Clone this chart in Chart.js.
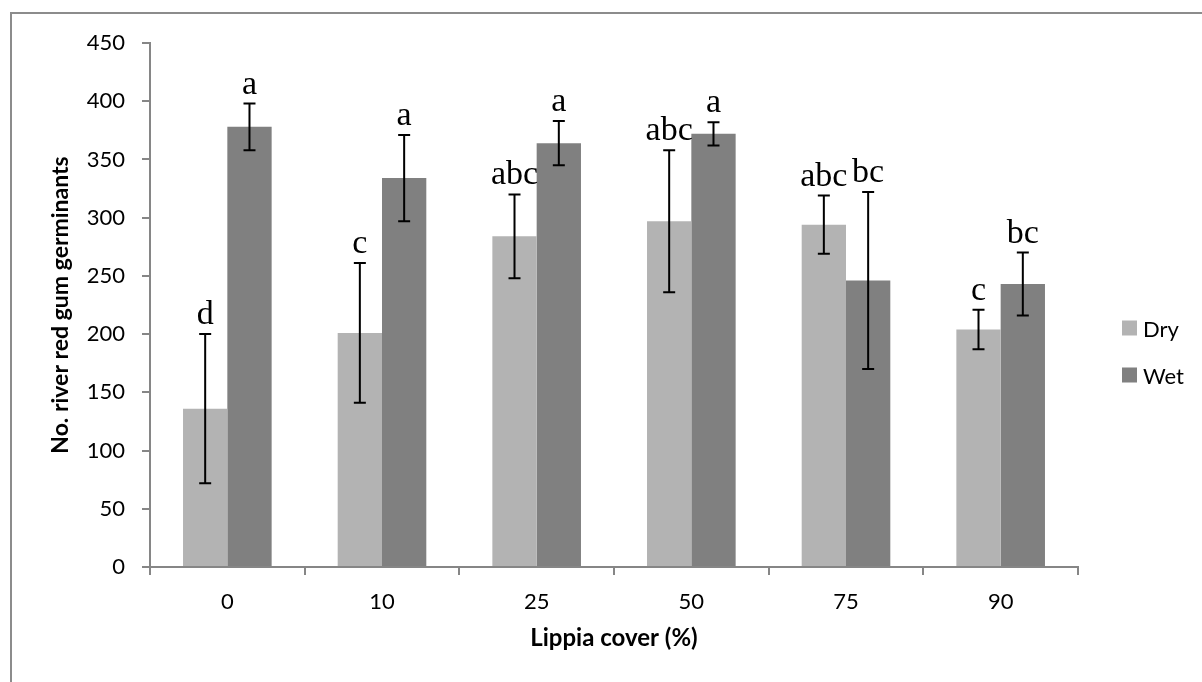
<!DOCTYPE html>
<html>
<head>
<meta charset="utf-8">
<script src="https://cdn.jsdelivr.net/npm/chart.js@4.4.1/dist/chart.umd.min.js"></script>
<style>
  html, body { margin: 0; padding: 0; background: #ffffff; }
  #wrap { position: relative; width: 1202px; height: 682px; }
  canvas { display: block; }
</style>
</head>
<body>
<div id="wrap"><canvas id="c" width="1202" height="682"></canvas></div>
<script>
// ---- data ----
const categories = ['0', '10', '25', '50', '75', '90'];
const dryValues = [136, 201, 284, 297, 294, 204];
const wetValues = [378, 334, 364, 372, 246, 243];
const dryErrors = [64, 60, 36, 61, 25, 17];
const wetErrors = [20, 37, 19, 10, 76, 27];
const dryLetters = ['d', 'c', 'abc', 'abc', 'abc', 'c'];
const wetLetters = ['a', 'a', 'a', 'a', 'bc', 'bc'];
const yTicks = [0, 50, 100, 150, 200, 250, 300, 350, 400, 450];
const seriesNames = ['Dry', 'Wet'];

const DRY_COLOR = '#b3b3b3';
const WET_COLOR = '#808080';
const AXIS_COLOR = '#868686';
const SANS = 'Lato';
const SERIF = '"Liberation Serif"';

const errorSets = [dryErrors, wetErrors];
const letterSets = [dryLetters, wetLetters];

const frame = {
  id: 'frame',
  beforeDraw(chart) {
    const ctx = chart.ctx;
    ctx.save();
    ctx.fillStyle = '#ffffff';
    ctx.fillRect(0, 0, chart.width, chart.height);
    ctx.strokeStyle = '#8c8c8c';
    ctx.lineWidth = 2;
    ctx.beginPath();
    ctx.moveTo(11, chart.height + 2);
    ctx.lineTo(11, 13);
    ctx.lineTo(chart.width + 2, 13);
    ctx.stroke();
    ctx.restore();
  }
};

const errorBars = {
  id: 'errorBars',
  afterDatasetsDraw(chart) {
    const ctx = chart.ctx;
    const y = chart.scales.y;
    ctx.save();
    ctx.strokeStyle = '#000000';
    ctx.lineWidth = 2;
    chart.data.datasets.forEach((ds, di) => {
      const meta = chart.getDatasetMeta(di);
      meta.data.forEach((bar, i) => {
        const v = ds.data[i];
        const e = errorSets[di][i];
        const x = bar.x;
        const yTop = y.getPixelForValue(v + e);
        const yBot = y.getPixelForValue(v - e);
        const cap = 6;
        ctx.beginPath();
        ctx.moveTo(x, yTop); ctx.lineTo(x, yBot);
        ctx.moveTo(x - cap, yTop); ctx.lineTo(x + cap, yTop);
        ctx.moveTo(x - cap, yBot); ctx.lineTo(x + cap, yBot);
        ctx.stroke();
        // significance letter
        ctx.fillStyle = '#000000';
        ctx.font = '34px ' + SERIF;
        ctx.textAlign = 'center';
        ctx.textBaseline = 'alphabetic';
        ctx.fillText(letterSets[di][i], x, yTop - 10);
      });
    });
    ctx.restore();
  }
};

const sideLegend = {
  id: 'sideLegend',
  afterDraw(chart) {
    const ctx = chart.ctx;
    const area = chart.chartArea;
    const x0 = area.right + 44;
    const yc = chart.height / 2 + 18.5;
    const gap = 47;
    ctx.save();
    ctx.font = '22px ' + SANS;
    ctx.textAlign = 'left';
    ctx.textBaseline = 'alphabetic';
    chart.data.datasets.forEach((ds, di) => {
      const base = yc - gap / 2 + di * gap;
      ctx.fillStyle = ds.backgroundColor;
      ctx.fillRect(x0, base - 15.5, 15, 15);
      ctx.fillStyle = '#000000';
      ctx.fillText(ds.label, x0 + 21, base + 0.5);
    });
    ctx.restore();
  }
};

new Chart(document.getElementById('c'), {
  type: 'bar',
  data: {
    labels: categories,
    datasets: [
      { label: seriesNames[0], data: dryValues, backgroundColor: DRY_COLOR, borderWidth: 0 },
      { label: seriesNames[1], data: wetValues, backgroundColor: WET_COLOR, borderWidth: 0 }
    ]
  },
  options: {
    responsive: false,
    animation: false,
    events: [],
    layout: { padding: { left: 0, right: 124, top: 43, bottom: 0 } },
    datasets: { bar: { barPercentage: 1.0, categoryPercentage: 0.573 } },
    plugins: {
      legend: { display: false },
      tooltip: { enabled: false },
      title: { display: false }
    },
    scales: {
      x: {
        grid: { drawOnChartArea: false, drawTicks: true, tickLength: 8, color: AXIS_COLOR, lineWidth: 2 },
        border: { color: AXIS_COLOR, width: 2 },
        ticks: { color: '#000000', font: { family: SANS, size: 22 }, padding: 14, maxRotation: 0 },
        title: {
          display: true, text: 'Lippia cover (%)', color: '#000000',
          font: { family: SANS, size: 24, weight: 'bold' },
          padding: { top: 0, bottom: 29 }
        },
        afterFit(scale) { scale.height = 115; }
      },
      y: {
        min: 0, max: 450,
        afterBuildTicks(scale) { scale.ticks = yTicks.map(v => ({ value: v })); },
        grid: { drawOnChartArea: false, drawTicks: true, tickLength: 8, color: AXIS_COLOR, lineWidth: 2 },
        border: { color: AXIS_COLOR, width: 2 },
        ticks: { color: '#000000', font: { family: SANS, size: 22 }, padding: 17 },
        title: {
          display: true, text: 'No. river red gum germinants', color: '#000000',
          font: { family: SANS, size: 23, weight: 'bold' },
          padding: { top: 47, bottom: 0 }
        },
        afterFit(scale) { scale.width = 150; }
      }
    }
  },
  plugins: [frame, errorBars, sideLegend]
});
</script>
</body>
</html>
